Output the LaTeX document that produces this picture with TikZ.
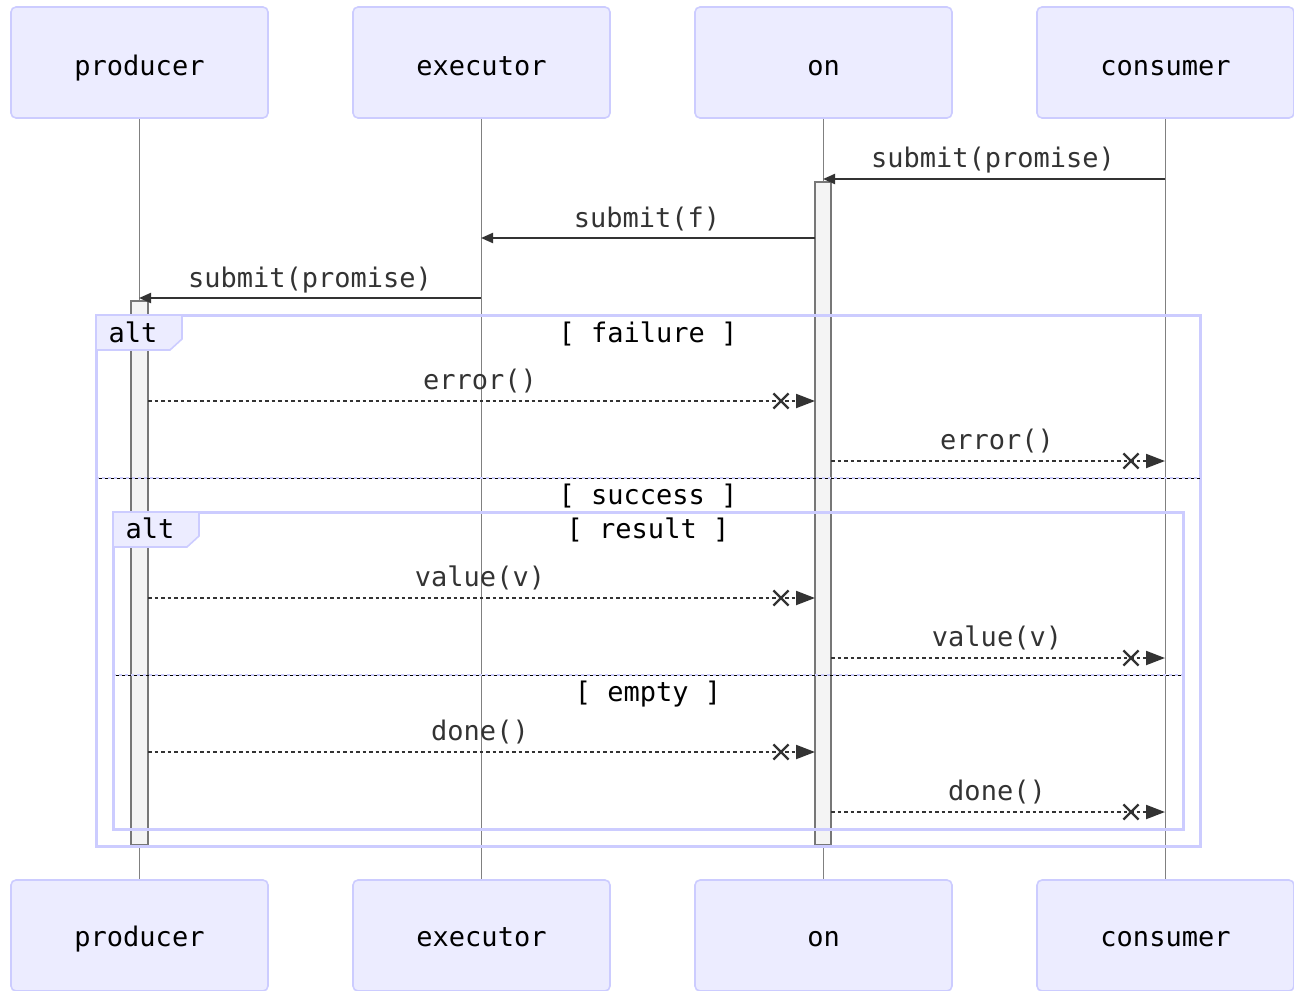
\documentclass[tikz,border=0pt]{standalone}
\usepackage{fontspec}
\setmonofont{DejaVu Sans Mono}
\usetikzlibrary{arrows.meta,shapes.misc}

\definecolor{actorfill}{HTML}{ECECFF}
\definecolor{actorline}{HTML}{CCCCFF}
\definecolor{msgcolor}{HTML}{333333}
\definecolor{lifegray}{HTML}{808080}
\definecolor{actfill}{HTML}{F4F4F4}
\definecolor{actline}{HTML}{777777}

\newcommand\seqfont{\ttfamily\fontsize{27}{30}\selectfont}

\tikzset{
  actor/.style={draw=actorline, fill=actorfill, line width=1.6pt, rounded corners=5pt,
    minimum width=257pt, minimum height=111pt, font=\seqfont,
    text height=26pt, text depth=1pt},
  lifeline/.style={lifegray, line width=1.6pt},
  actbar/.style={draw=actline, fill=actfill, line width=1.6pt},
  frameline/.style={draw=actorline, line width=3pt},
  altlabel/.style={draw=actorline, fill=actorfill, line width=1.6pt},
  sepline/.style={actorline, line width=1.6pt, dash pattern=on 3pt off 3pt},
  msg/.style={msgcolor, line width=2pt, -{Triangle[length=12pt,width=10pt]}},
  reply/.style={msgcolor, line width=2pt, dash pattern=on 3.5pt off 3pt,
    -{Triangle[length=19pt,width=14pt]}},
  xmark/.style={cross out, draw=msgcolor, line width=2.2pt, minimum size=13pt, inner sep=0pt},
  msglabel/.style={font=\seqfont, text=msgcolor, inner sep=0pt, anchor=base},
  guard/.style={font=\seqfont, text=black, inner sep=0pt, anchor=base},
}

\begin{document}
\begin{tikzpicture}[x=1pt, y=-1pt]
  \useasboundingbox (0,0) rectangle (1294,991);

  % participants
  \node[actor] (prodTop) at (139.5,62.5) {producer};
  \node[actor] (execTop) at (481.5,62.5) {executor};
  \node[actor] (onTop)   at (823.5,62.5) {on};
  \node[actor] (consTop) at (1165.5,62.5) {consumer};
  \node[actor, text depth=5pt] (prodBot) at (139.5,935.5) {producer};
  \node[actor, text depth=5pt] (execBot) at (481.5,935.5) {executor};
  \node[actor, text depth=5pt] (onBot)   at (823.5,935.5) {on};
  \node[actor, text depth=5pt] (consBot) at (1165.5,935.5) {consumer};

  \draw[lifeline] (prodTop) -- (prodBot);
  \draw[lifeline] (execTop) -- (execBot);
  \draw[lifeline] (onTop) -- (onBot);
  \draw[lifeline] (consTop) -- (consBot);

  % activations
  \draw[actbar] (815,182) rectangle (831,845);
  \draw[actbar] (131,301) rectangle (148,845);

  % requests
  \coordinate (cons1) at (1165,179);
  \coordinate (on1)   at (823,179);
  \coordinate (on2)   at (815,238);
  \coordinate (exec2) at (481,238);
  \coordinate (exec3) at (481,298);
  \coordinate (prod3) at (139,298);
  \draw[msg] (cons1) -- (on1);
  \draw[msg] (on2) -- (exec2);
  \draw[msg] (exec3) -- (prod3);
  \node[msglabel] (lab1) at (993,167) {submit(promise)};
  \node[msglabel] (lab2) at (647,227) {submit(f)};
  \node[msglabel] (lab3) at (310,287) {submit(promise)};

  % outer alt
  \draw[frameline] (96,315) rectangle (1200,846);
  \draw[altlabel] (96,315) -- (182,315) -- (182,339) -- (170,350) -- (96,350) -- cycle;
  \node[guard] (alt1) at (133,342) {alt};
  \node[guard] (fail) at (648,342) {[ failure ]};
  \draw[black, line width=0.6pt, dash pattern=on 3pt off 3pt, dash phase=3pt] (96,478) -- (1200,478);
  \draw[sepline] (96,478) -- (1200,478);
  \node[guard] (succ) at (648,504) {[ success ]};

  % inner alt
  \draw[frameline] (113,512) rectangle (1183,829);
  \draw[altlabel] (113,512) -- (199,512) -- (199,536) -- (187,547) -- (113,547) -- cycle;
  \node[guard] (alt2) at (150,538) {alt};
  \node[guard] (res) at (648,538) {[ result ]};
  \draw[black, line width=0.6pt, dash pattern=on 3pt off 3pt, dash phase=3pt] (113,675) -- (1183,675);
  \draw[sepline] (113,675) -- (1183,675);
  \node[guard] (empt) at (648,701) {[ empty ]};

  % replies
  \coordinate (prod4) at (148,401);  \coordinate (on4)   at (815,401);
  \coordinate (on5)   at (831,461);  \coordinate (cons5) at (1165,461);
  \coordinate (prod6) at (148,598);  \coordinate (on6)   at (815,598);
  \coordinate (on7)   at (831,658);  \coordinate (cons7) at (1165,658);
  \coordinate (prod8) at (148,752);  \coordinate (on8)   at (815,752);
  \coordinate (on9)   at (831,812);  \coordinate (cons9) at (1165,812);
  \draw[reply] (prod4) -- (on4);
  \draw[reply] (on5) -- (cons5);
  \draw[reply] (prod6) -- (on6);
  \draw[reply] (on7) -- (cons7);
  \draw[reply] (prod8) -- (on8);
  \draw[reply] (on9) -- (cons9);
  \node[xmark] (x4) at (781,401) {};
  \node[xmark] (x5) at (1131,461) {};
  \node[xmark] (x6) at (781,598) {};
  \node[xmark] (x7) at (1131,658) {};
  \node[xmark] (x8) at (781,752) {};
  \node[xmark] (x9) at (1131,812) {};
  \node[msglabel] (lab4) at (480,389) {error()};
  \node[msglabel] (lab5) at (997,449) {error()};
  \node[msglabel] (lab6) at (480,586) {value(v)};
  \node[msglabel] (lab7) at (997,646) {value(v)};
  \node[msglabel] (lab8) at (480,740) {done()};
  \node[msglabel] (lab9) at (997,800) {done()};
\end{tikzpicture}
\end{document}
